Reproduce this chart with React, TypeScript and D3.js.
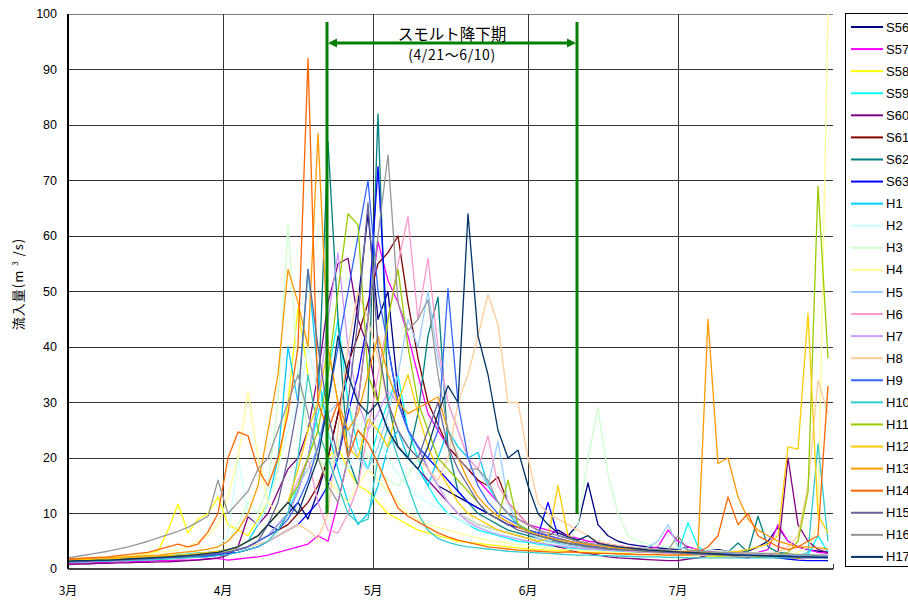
import React from "react";
import * as d3 from "d3";

// ---- data (one sample every 2 days, from 3/1 = day 0 to 7/31 = day 152) ----
const sampleStepDays = 2;
const seriesNames = ["S56","S57","S58","S59","S60","S61","S62","S63","H1","H2","H3","H4","H5","H6","H7","H8","H9","H10","H11","H12","H13","H14","H15","H16","H17"];
const seriesColors = ["#000080","#FF00FF","#FFFF00","#00FFFF","#800080","#800000","#008080","#0000FF","#00CCFF","#CCFFFF","#CCFFCC","#FFFF99","#99CCFF","#FF99CC","#CC99FF","#FFCC99","#3366FF","#33CCCC","#99CC00","#FFCC00","#FF9900","#FF6600","#666699","#969696","#003366"];

const S56 = [1.2,1.3,1.4,1.5,1.6,1.7,1.8,1.9,2.0,2.1, 2.2,2.3,2.4,2.6,2.8,3.0,3.5,4,5,6, 8,7,10,12,9,14,20,28,35,48, 64,45,50,32,25,22,18,15,14,13, 12,11,10,9,8,7.5,7,6.5,6,7, 6,8,15.5,8,6,5,4.5,4.2,4,3.8, 3.6,3.5,4,3.4,3.3,3.5,3.2,3.0,3.2,4, 5,7.6,5,4,3.5,3.2,3];
const S57 = [1.0,1.1,1.1,1.2,1.2,1.3,1.3,1.4,1.4,1.5, 1.5,1.6,1.6,1.7,1.8,1.9,1.6,1.8,2,2.2, 2.5,3,3.5,4,4.5,6,5,12,20,30, 45,59,52,48,42,35,28,25,22,20, 18,16,14,12,10,9,8,7.5,7,6.5, 6,5.5,5,4.8,4.5,4.2,4,3.8,3.6,4, 7,5,4,3.5,3.2,3,3,2.8,2.8,3, 3.5,8,5,4,3.5,3,2.8];
const S58 = [1.5,1.6,1.7,1.8,2,2.1,2.2,2.5,2.8,3.2, 7,11.7,6.5,9,10,13,8,7,6,9, 12,18,30,47,35,25,20,22,18,15, 14,12,10,9,8,7,6.5,6,5.5,5, 4.8,4.6,4.4,4.2,4,3.8,3.6,3.5,3.4,3.3, 3.2,3.1,3,2.9,2.8,2.8,2.7,2.7,2.6,2.6, 2.5,2.5,2.4,2.4,2.3,2.3,2.2,2.2,2.2,2.1, 2.1,2,2,2,2,2,2];
const S59 = [1.3,1.4,1.4,1.5,1.5,1.6,1.7,1.8,1.9,2, 2.1,2.2,2.3,2.4,2.5,2.7,3,3.5,4,5, 6,8,10,15,20,28,35,45,30,22, 18,25,30,35,25,20,15,12,10,9, 8,7,6.5,6,5.5,5,4.8,4.5,4.2,4, 3.8,3.6,3.5,3.4,3.3,3.2,3.1,3,3,2.9, 2.8,3,8.3,4,3,2.8,2.6,2.5,2.4,2.3, 2.3,2.2,2.2,2.1,2.5,6,3];
const S60 = [0.8,0.9,0.9,1,1,1.1,1.1,1.2,1.2,1.3, 1.3,1.4,1.5,1.6,1.8,2,2.5,4,9.4,8, 10,14,18,20,25,35,48,55,56,45, 40,30,25,22,20,18,16,14,12,10, 9,8,7.5,7,6.5,6,5.5,5,4.5,4, 3.5,3,2.8,2.5,2.2,2,1.9,1.8,1.7,1.6, 1.5,1.5,1.8,2,2.5,3,2.5,2.2,2,2.5, 2.5,3,20,8,5,3.5,3];
const S61 = [1.5,1.5,1.6,1.6,1.7,1.7,1.8,1.8,1.9,2, 2,2.1,2.2,2.3,2.5,2.7,3,3.5,4,5, 6,7,8,10,12,15,20,28,37,42, 48,55,57,60,48,38,30,26,22,20, 18,16,15,16.6,12,10,8,7,6,5.5, 5,4.5,4.2,4,3.8,3.5,3.3,3.1,3,2.9, 2.8,2.7,2.6,2.5,2.5,2.4,2.4,2.3,2.3,2.2, 2.2,2.1,2.1,2,2,2,2];
const S62 = [1.6,1.7,1.7,1.8,1.8,1.9,2,2,2.1,2.2, 2.3,2.4,2.5,2.6,2.8,3,3.2,3.5,4,5, 6,8,10,14,20,30,77,45,20,15, 30,82,30,22,20,28,42,49,22,14, 12,10,9,8,7,6.5,6,5.5,5,4.8, 4.5,4.3,4.1,4,3.8,3.6,3.5,3.4,3.3,3.2, 3.1,3,3,2.9,2.9,2.8,3,4.7,3,9.5, 4,3,2.8,2.6,2.5,2.4,2.3];
const S63 = [1.4,1.4,1.5,1.5,1.6,1.6,1.7,1.7,1.8,1.8, 1.9,2,2.1,2.2,2.3,2.5,2.8,3,3.5,4, 5,6,7,8,10,12,15,20,28,35, 45,72.5,40,30,25,22,20,18,16,14, 12,11,10,9,8,7.5,7,6,12,6, 5.5,5,4.5,4.2,4,3.8,3.6,3.5,3.4,3.3, 3.2,3.1,3,2.9,2.8,2.7,2.6,2.5,2.4,2.3, 2.2,2,1.8,1.6,1.5,1.5,1.5];
const H1 = [1.7,1.8,1.8,1.9,2,2,2.1,2.2,2.3,2.4, 2.5,2.6,2.7,2.9,3,3.2,3.5,4,5,8, 12,20,40,30,54,35,25,18,12,8, 10,15,22,25,20,18,15,20,25,22, 20,21,15,12,10,8,7,6,5.5,5, 4.6,4.3,4,3.8,3.6,3.4,3.3,3.2,3.1,3, 2.9,2.8,2.7,2.6,2.6,2.5,2.5,2.4,2.4,2.3, 2.3,2.2,2.2,2.1,2.1,2,2];
const H2 = [1.5,1.6,1.6,1.7,1.8,1.9,2,2.1,2.2,2.4, 2.6,2.8,3,3.3,3.6,4,6,20,10,8, 12,18,25,30,40,32,25,20,18,22, 28,24,20,17,15,13,12,11,10,9, 8,7.5,7,6.5,6,5.5,5,4.8,4.6,4.4, 4.2,4,3.8,3.6,3.5,3.4,3.3,3.2,3.1,3, 2.9,2.8,2.7,2.6,2.5,2.5,2.4,2.4,2.3,2.3, 2.2,2.2,2.1,2.1,2,2,2];
const H3 = [1.6,1.7,1.7,1.8,1.9,2,2.1,2.2,2.3,2.4, 2.6,2.8,3,3.3,3.6,4,5,8,12,10, 15,30,62,35,25,20,18,22,30,25, 20,18,16,15,17,20,18,15,12,10, 9,8,7.5,7,6.5,6,5.5,5,4.8,4.6, 4.4,8,20,29,17,10,6,5,4.5,4.2, 4,3.8,3.6,3.5,3.4,3.3,3.2,3.1,3,2.9, 2.8,2.8,2.7,2.7,2.6,2.6,2.5];
const H4 = [1.8,1.9,2,2.1,2.2,2.3,2.4,2.5,2.7,3, 3.2,3.5,4,5,6,8,13,20,32,20, 12,10,12,15,18,20,16,14,12,15, 18,16,14,12,10,9,8,7.5,7,6.5, 6,5.6,5.2,4.9,4.6,4.4,4.2,4,3.8,3.6, 3.5,3.4,3.3,3.2,3.1,3,2.9,2.8,2.8,2.7, 2.7,2.6,2.6,2.5,2.5,2.4,2.4,2.4,2.3,2.3, 2.3,2.4,2.5,3,4,8,100];
const H5 = [1.3,1.4,1.4,1.5,1.5,1.6,1.7,1.8,1.9,2, 2.1,2.2,2.3,2.5,2.7,3,3.5,4,5,6, 8,10,12,15,18,22,28,30,25,20, 18,22,28,35,45,40,50,38,30,25, 20,18,15,23,12,8,6.5,5.5,5,4.6, 4.3,4,3.8,3.6,3.5,3.4,3.3,3.2,4,5, 8,4,3.5,3.2,3,2.9,2.8,2.7,2.6,2.5, 2.5,2.4,2.4,2.3,2.3,2.2,2.2];
const H6 = [1.5,1.5,1.6,1.6,1.7,1.8,1.9,2,2.1,2.2, 2.3,2.4,2.5,2.7,2.9,3.1,3.5,4,5,6, 8,10,12,16,20,12,7,6.5,10,15, 25,35,45,55,63.5,45,56,40,30,25, 20,18,24,15,12,10,8,7,6,5.5, 5,4.6,4.3,4,3.8,3.6,3.5,3.4,3.3,3.2, 3.1,3,2.9,2.8,2.7,2.6,2.6,2.5,2.5,2.4, 2.4,2.3,2.3,2.2,2.2,2.1,2.1];
const H7 = [1.2,1.3,1.3,1.4,1.4,1.5,1.6,1.7,1.8,1.9, 2,2.1,2.2,2.4,2.6,2.8,3,3.5,4,5, 6,8,10,14,20,30,45,57,40,30, 25,28,32,30,25,22,18,15,12,10, 8.5,7.5,6.8,6.2,5.8,5.4,5,4.7,4.4,4.2, 4,3.8,3.6,3.5,3.4,3.3,3.2,3.1,3,2.9, 2.8,2.7,2.6,2.6,2.5,2.5,2.4,2.4,2.3,2.3, 2.2,2.2,2.1,2.1,2,2,2];
const H8 = [1.4,1.5,1.5,1.6,1.6,1.7,1.8,1.9,2,2.1, 2.2,2.3,2.4,2.6,2.8,3,3.3,3.6,4,4.5, 5,6,7,8,7,5.5,10,25,40,50, 45,38,30,25,22,20,18,16,20,30, 35,42,49.5,44,30,30,20,12,10,9, 8,7,6,5,4.5,4.2,4,3.8,3.6,3.5, 3.4,3.3,3.2,3.1,3,3,2.9,2.9,2.8,2.8, 2.7,3,4,6,15,34,28];
const H9 = [1.3,1.4,1.4,1.5,1.5,1.6,1.6,1.7,1.8,1.9, 2,2.1,2.2,2.3,2.5,2.7,3,3.5,4,5, 6,7,9,12,16,22,30,40,50,60, 70,50,40,30,25,22,20,25,50.5,30, 20,15,12,10,9,8,7,6.5,6,5.5, 5,4.6,4.3,4,3.8,3.6,3.5,3.4,3.3,3.2, 3.1,3,2.9,3.5,3,2.8,2.7,2.6,2.5,2.5, 2.4,2.4,2.3,2.3,2.2,2.2,2.2];
const H10 = [1.2,1.3,1.3,1.4,1.4,1.5,1.5,1.6,1.6,1.7, 1.8,1.9,2,2.1,2.2,2.4,2.6,3,3.5,4, 5,7,10,20,35,25,20,15,10,8.3, 9,20,25.6,20,15,10,7,5.5,4.8,4.3, 4,3.8,3.6,3.4,3.2,3.1,3,2.9,2.8,2.7, 2.6,2.5,2.5,2.4,2.4,2.3,2.3,2.2,2.2,2.2, 2.1,2.1,2,2,2,2,2,2,2,2, 2,2,2,2.2,3,22.6,5];
const H11 = [1.5,1.6,1.6,1.7,1.7,1.8,1.9,2,2.1,2.2, 2.3,2.4,2.5,2.7,2.9,3.1,3.4,4,5,6, 8,10,12,15,20,25,35,50,64,62, 35,30,45,54,40,30,25,20,18,16, 14,12,10,9,16,8,7,6,5.5,5, 4.6,4.3,4,3.8,3.6,3.5,3.4,3.3,3.2,3.1, 3,2.9,2.8,2.7,2.6,2.5,2.5,2.4,2.4,2.3, 2.3,2.5,3,5,13.8,69,38];
const H12 = [1.6,1.7,1.7,1.8,1.8,1.9,2,2.1,2.2,2.3, 2.4,2.5,2.6,2.8,3,3.2,3.5,4,5,6, 8,10,12,18,25,30,40,30,22,20, 27,25,22,30,35,28,22,18,15,12, 10,9,8,7,6.5,6,5.5,5,5.5,15, 6,5,4.6,4.3,4,3.8,3.6,3.5,3.4,3.3, 3.2,3.1,3,3,2.9,2.9,3,3.2,3.5,4, 4.5,6,22,21.6,46,9.7,6.5];
const H13 = [1.7,1.8,1.9,2,2,2.1,2.2,2.3,2.4,2.5, 2.7,2.9,3.1,3.3,3.6,4,5,7,10,15, 25,35,54,48,40,78.5,40,30,25,28, 35,42,35,30,28,29,30,31,25,20, 16,13,11,9.5,8.5,7.5,6.8,6.2,5.7,5.3, 5,4.7,4.4,4.2,4,3.8,3.6,3.4,3.3,3.2, 3.1,3,3.2,3.5,45,19,20,13,9,7, 6,5,4.5,4,4,3.8,3.6];
const H14 = [1.8,1.9,2,2.1,2.2,2.4,2.6,2.8,3,3.5, 4,4.5,4,4.5,6.7,10,20,24.7,24,18, 15,20,28,40,92,30,25,30,20,25, 22.7,19,14.8,11,9.5,8.5,7.5,6.5,5.8,5.2, 4.8,4.4,4,3.8,3.6,3.4,3.3,3.2,3.1,3, 3.1,3,2.9,2.8,2.8,2.7,2.7,2.6,2.6,2.6, 2.5,2.5,2.6,3,4,6,13,8,10,6, 5,4,3.5,4,5,6,33];
const H15 = [1.3,1.4,1.4,1.5,1.5,1.6,1.7,1.8,1.9,2, 2.1,2.2,2.3,2.4,2.6,2.8,3,3.5,4,5, 8,12,20,30,54,40,28,20,30,45, 66,40,30,25,22,20,25,30,22,18, 15,12,10,9,8,7,6.5,6,5.5,5, 4.6,4.3,4,3.8,3.6,3.5,3.4,3.3,3.2,3.1, 3,2.9,2.8,2.7,2.6,2.6,2.5,2.5,2.4,2.4, 2.3,2.3,2.2,2.2,2.1,2.1,2];
const H16 = [2,2.3,2.6,2.9,3.2,3.6,4,4.5,5,5.6, 6.2,6.8,7.5,8.5,9.5,16,10,12,14,18, 20,25,30,35,28,20,15,12,20,30, 45,60,74.6,48,43,45,48.5,35,25,20, 18,18,16,12,10,9,8,7,6.5,6, 5.5,5,4.7,4.4,4.2,4,3.8,3.7,3.6,3.5, 3.4,6,3.3,3.2,3.1,3,3,2.9,2.9,2.8, 2.8,2.7,2.7,2.6,2.6,2.5,2.5];
const H17 = [1.4,1.5,1.5,1.6,1.6,1.7,1.8,1.9,2,2.1, 2.2,2.3,2.4,2.6,2.8,3,3.5,4,5,6, 8,10,12,10,15,20,30,42,35,30, 28,30,25,22,20,18,22,28,33,30, 64,42,35,25,20,21.4,15,10,8,6.5, 5.8,5.2,6,4.6,4.3,4,3.8,3.6,3.4,3.3, 3.2,3.1,3,2.9,2.8,2.7,2.6,2.5,2.5,2.4, 2.4,2.3,2.3,2.2,2.2,2.1,2.1];

const seriesValues = [S56,S57,S58,S59,S60,S61,S62,S63,H1,H2,H3,H4,H5,H6,H7,H8,H9,H10,H11,H12,H13,H14,H15,H16,H17];

const monthLabels = ["3月","4月","5月","6月","7月"];
const monthStartDays = [0, 31, 61, 92, 122, 153];
const yTicks = [0,10,20,30,40,50,60,70,80,90,100];
const smoltPeriod = [51.8, 101.8];   // 4/21 ~ 6/10 (as placed on the chart)
const smoltLineBottom = 10;
const smoltLabel = "スモルト降下期";
const smoltSubLabel = "(4/21～6/10)";

const W = 908, H = 600;
const M = { left: 68, right: 833, top: 14, bottom: 569 };

export default function App() {
  const x = d3.scaleLinear().domain([0, 153]).range([M.left, M.right]);
  const y = d3.scaleLinear().domain([0, 100]).range([M.bottom, M.top]);
  const line = d3.line<number>()
    .x((_, i) => x(i * sampleStepDays))
    .y((v) => y(v));

  const numFont = "'Liberation Sans', Arial, sans-serif";
  const jpFont = "'Noto Sans CJK JP', sans-serif";
  const legendTop = 27, legendStep = 22.08;
  const sx0 = x(smoltPeriod[0]), sx1 = x(smoltPeriod[1]);
  const arrowY = 43;
  const midX = (sx0 + sx1) / 2;

  return (
    <svg width={W} height={H} style={{ position: "absolute", left: 0, top: 0, background: "#fff" }}>
      {/* horizontal gridlines */}
      {yTicks.map((t) => (
        <line key={"gy" + t} x1={M.left} x2={M.right} y1={y(t)} y2={y(t)}
          stroke={t === 100 ? "#808080" : "#333"} strokeWidth={1} shapeRendering="crispEdges" />
      ))}
      {/* vertical month gridlines */}
      {monthStartDays.slice(1, 5).map((d) => (
        <line key={"gx" + d} x1={x(d)} x2={x(d)} y1={M.top} y2={M.bottom}
          stroke="#333" strokeWidth={1} shapeRendering="crispEdges" />
      ))}
      {/* end tick */}
      <line x1={x(153)} x2={x(153)} y1={M.bottom - 5} y2={M.bottom} stroke="#333" shapeRendering="crispEdges" />

      {/* series */}
      <g fill="none" strokeWidth={1.3} strokeLinejoin="round">
        {seriesValues.map((vals, k) => (
          <path key={seriesNames[k]} d={line(vals) || ""} stroke={seriesColors[k]} />
        ))}
      </g>

      {/* axes */}
      <line x1={M.left} x2={M.left} y1={M.top} y2={M.bottom} stroke="#000" strokeWidth={1.2} shapeRendering="crispEdges" />
      <line x1={M.left} x2={M.right} y1={M.bottom} y2={M.bottom} stroke="#444" strokeWidth={2} shapeRendering="crispEdges" />

      {/* y tick labels */}
      {yTicks.map((t) => (
        <text key={"ty" + t} x={57} y={y(t)} dy="0.35em" textAnchor="end"
          fontFamily={numFont} fontSize={12.5} fill="#000">{t}</text>
      ))}
      {/* x tick labels */}
      {monthLabels.map((lab, i) => (
        <text key={"tx" + i} x={x(monthStartDays[i])} y={591} dy="0.35em" textAnchor="middle"
          fontFamily={jpFont} fontSize={12} fill="#000">{lab}</text>
      ))}

      {/* y axis title */}
      <text transform={`translate(23, 284) rotate(-90)`} textAnchor="middle"
        fontFamily={jpFont} fontSize={13} letterSpacing={1} fill="#000">
        流入量(m <tspan fontSize={8} dy={-5}>3</tspan><tspan dy={5}> /s)</tspan>
      </text>

      {/* smolt period annotation */}
      <g stroke="#008000" strokeWidth={3}>
        <line x1={sx0} x2={sx0} y1={22} y2={y(smoltLineBottom)} />
        <line x1={sx1} x2={sx1} y1={22} y2={y(smoltLineBottom)} />
        <line x1={sx0 + 6} x2={sx1 - 6} y1={arrowY} y2={arrowY} />
      </g>
      <path d={`M${sx0 + 1},${arrowY} l9,-4.5 v9 z`} fill="#008000" />
      <path d={`M${sx1 - 1},${arrowY} l-9,-4.5 v9 z`} fill="#008000" />
      <text x={midX} y={35} dy="0.35em" textAnchor="middle" fontFamily={jpFont} fontSize={15.5} fill="#000">{smoltLabel}</text>
      <text x={midX} y={55} dy="0.35em" textAnchor="middle" fontFamily={jpFont} fontSize={14} letterSpacing={0.6} fill="#000">{smoltSubLabel}</text>

      {/* legend */}
      <rect x={845.5} y={13.5} width={80} height={553} fill="#fff" stroke="#000" strokeWidth={1} />
      {seriesNames.map((nm, k) => {
        const ly = legendTop + k * legendStep;
        return (
          <g key={"lg" + nm}>
            <line x1={851} x2={883} y1={ly} y2={ly} stroke={seriesColors[k]} strokeWidth={2} />
            <text x={886} y={ly} dy="0.35em" fontFamily={numFont} fontSize={13} fill="#000">{nm}</text>
          </g>
        );
      })}
    </svg>
  );
}
